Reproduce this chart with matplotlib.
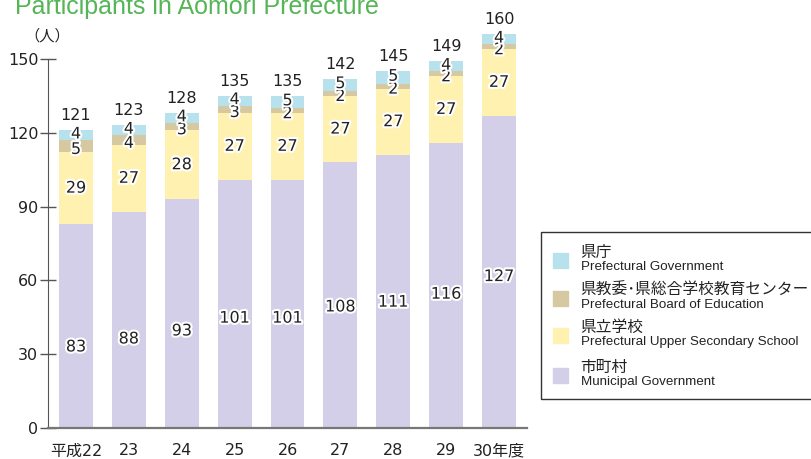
import numpy as np
import matplotlib.pyplot as plt
import matplotlib.patheffects as pe
from matplotlib.patches import Rectangle

plt.rcParams['font.family'] = ['DejaVu Sans', 'Noto Sans CJK JP']

###### data
years = ['平成22', '23', '24', '25', '26', '27', '28', '29', '30年度']
municipal = [83, 88, 93, 101, 101, 108, 111, 116, 127]
high_school = [29, 27, 28, 27, 27, 27, 27, 27, 27]
board = [5, 4, 3, 3, 2, 2, 2, 2, 2]
prefecture = [4, 4, 4, 4, 5, 5, 5, 4, 4]

legend_jp = ['県庁', '県教委･県総合学校教育センター', '県立学校', '市町村']
legend_en = ['Prefectural Government', 'Prefectural Board of Education',
             'Prefectural Upper Secondary School', 'Municipal Government']

c_pref = '#b8e1ee'
c_board = '#d6c9a1'
c_hs = '#fff1b0'
c_mun = '#d3cfe8'
jp = ['Noto Sans CJK JP', 'DejaVu Sans']


def label(ax, x, y, s):
    ax.text(x, y, s, ha='center', va='center', fontsize=11.5, color='#222222',
            path_effects=[pe.withStroke(linewidth=3, foreground='white')],
            clip_on=False, zorder=5)


def main():
    fig = plt.figure(figsize=(8.12, 4.59), dpi=100)
    ax = fig.add_axes([0.0591, 0.0675, 0.590, 0.804])

    x = np.arange(len(years))
    mun = np.array(municipal)
    hs = np.array(high_school)
    bd = np.array(board)
    pf = np.array(prefecture)
    w = 0.64

    ax.bar(x, mun, w, color=c_mun, clip_on=False)
    ax.bar(x, hs, w, bottom=mun, color=c_hs, clip_on=False)
    ax.bar(x, bd, w, bottom=mun + hs, color=c_board, clip_on=False)
    ax.bar(x, pf, w, bottom=mun + hs + bd, color=c_pref, clip_on=False)

    total = mun + hs + bd + pf
    for i in x:
        label(ax, i, 0.65 * mun[i] - 21, str(mun[i]))
        label(ax, i, mun[i] + hs[i] / 2, str(hs[i]))
        label(ax, i, mun[i] + hs[i] + (bd[i] - 2.5) * 0.5, str(bd[i]))
        label(ax, i, mun[i] + hs[i] + bd[i] + pf[i] / 2 + 0.5, str(pf[i]))
        ax.annotate(str(total[i]), (i, total[i]), xytext=(0, 5),
                    textcoords='offset points', ha='center', va='bottom',
                    fontsize=11.5, color='#222222', annotation_clip=False)

    ax.set_xlim(-0.53, 8.53)
    ax.set_ylim(0, 150)
    ax.set_yticks([0, 30, 60, 90, 120, 150])
    ax.set_xticks(x)
    ax.set_xticklabels(years, fontsize=11.5)
    ax.tick_params(axis='x', length=0, pad=11, colors='#222222')
    ax.tick_params(axis='y', direction='inout', length=12, width=1,
                   labelsize=11.5, pad=1, color='#555555', labelcolor='#222222')
    for s in ['top', 'right']:
        ax.spines[s].set_visible(False)
    ax.spines['left'].set_color('#555555')
    ax.spines['bottom'].set_color('#777777')
    ax.spines['bottom'].set_linewidth(1.6)

    fig.text(0.030, 0.922, '（人）', fontsize=11, color='#222222',
             ha='left', va='center', family=jp)
    fig.text(0.018, 1 - 14 / 459, 'Participants in Aomori Prefecture',
             fontsize=18, color='#55b557', ha='left', va='baseline',
             family='Liberation Sans')

    # legend box
    fig.patches.append(Rectangle((541 / 812, 1 - 399 / 459), 0.36, 167 / 459,
                                 transform=fig.transFigure, fill=False,
                                 edgecolor='#333333', lw=1))
    colors = [c_pref, c_board, c_hs, c_mun]
    jp_y = [252, 290, 327, 367]
    for k in range(4):
        yc = jp_y[k] + 8
        fig.patches.append(Rectangle((553 / 812, 1 - (yc + 7.5) / 459),
                                     15 / 812, 15 / 459,
                                     transform=fig.transFigure,
                                     color=colors[k]))
        fig.text(580 / 812, 1 - jp_y[k] / 459, legend_jp[k], fontsize=11.3,
                 color='#222222', ha='left', va='center', family=jp)
        fig.text(581 / 812, 1 - (jp_y[k] + 15) / 459, legend_en[k],
                 fontsize=9.6, color='#222222', ha='left', va='center',
                 family='Liberation Sans')

    fig.savefig('out.png', dpi=100)


if __name__ == "__main__":
    main()
